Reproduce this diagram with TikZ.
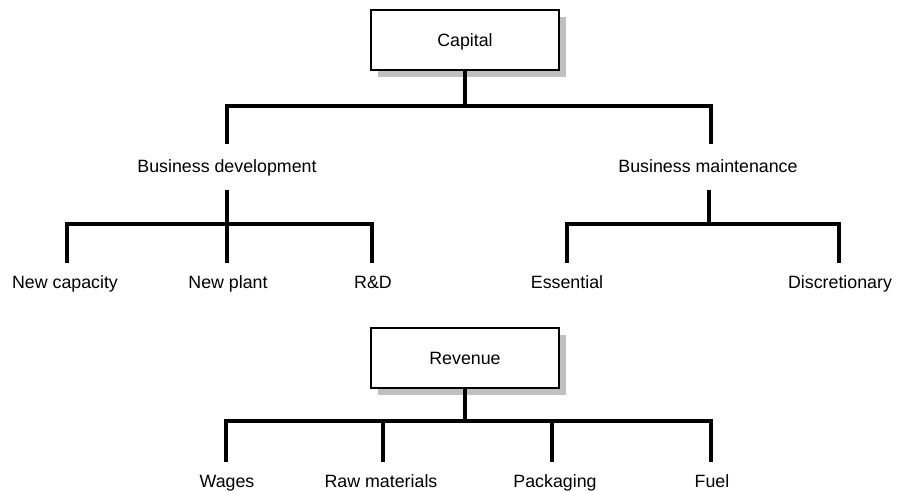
\documentclass[tikz,border=0pt]{standalone}
\usepackage{fontspec}
\setmainfont{Liberation Sans}
\usetikzlibrary{shadows}
\definecolor{shadowgray}{RGB}{192,192,192}
\begin{document}
\begin{tikzpicture}[x=1pt,y=-1pt,
  bar/.style={line width=4pt,line join=miter},
  box/.style={draw,line width=1.6pt,fill=white,minimum width=188pt,minimum height=60pt,
    inner sep=0pt,text height=12.7pt,text depth=0pt,font=\fontsize{17.8}{20}\selectfont,
    drop shadow={shadow xshift=7pt,shadow yshift=-7pt,fill=shadowgray,opacity=1}},
  lbl/.style={inner sep=0pt,anchor=base,font=\fontsize{17.8}{20}\selectfont}]
\useasboundingbox (0,0) rectangle (909,490);

% boxes
\node[box] (cap) at (465,40) {Capital};
\node[box] (rev) at (465,358) {Revenue};

% labels
\node[lbl] (bd) at (227,172) {Business development};
\node[lbl] (bm) at (708,172) {Business maintenance};
\node[lbl] (nc) at (65,288) {New capacity};
\node[lbl] (np) at (228,288) {New plant};
\node[lbl] (rd) at (373,288) {R\&D};
\node[lbl] (es) at (567,288) {Essential};
\node[lbl] (di) at (840,288) {Discretionary};
\node[lbl] (wa) at (227,487) {Wages};
\node[lbl] (rm) at (381,487) {Raw materials};
\node[lbl] (pk) at (555,487) {Packaging};
\node[lbl] (fu) at (712,487) {Fuel};

% connector end points
\coordinate (capbar) at (465,106);
\coordinate (bdtop) at (227,144);
\coordinate (bmtop) at (711,144);
\coordinate (bdst) at (227,190);
\coordinate (bdbar) at (227,224);
\coordinate (ncT) at (67,263);
\coordinate (npT) at (227,263);
\coordinate (rdT) at (372,263);
\coordinate (bmst) at (709,190);
\coordinate (bmbar) at (709,224);
\coordinate (esT) at (567,263);
\coordinate (diT) at (839,263);
\coordinate (revbar) at (465,421);
\coordinate (waT) at (226,462);
\coordinate (rmT) at (383,462);
\coordinate (pkT) at (552,462);
\coordinate (fuT) at (711,462);

% capital tree
\draw[bar] (cap.south) -- (capbar);
\draw[bar] (bdtop) |- (capbar) -| (bmtop);
\draw[bar] (ncT) |- (bdbar) -| (rdT);
\draw[bar] (bdst) -- (npT);
\draw[bar] (esT) |- (bmbar) -| (diT);
\draw[bar] (bmst) -- (bmbar);

% revenue tree
\draw[bar] (rev.south) -- (revbar);
\draw[bar] (waT) |- (revbar) -| (fuT);
\draw[bar] (rmT) -- (rmT |- revbar);
\draw[bar] (pkT) -- (pkT |- revbar);
\end{tikzpicture}
\end{document}
